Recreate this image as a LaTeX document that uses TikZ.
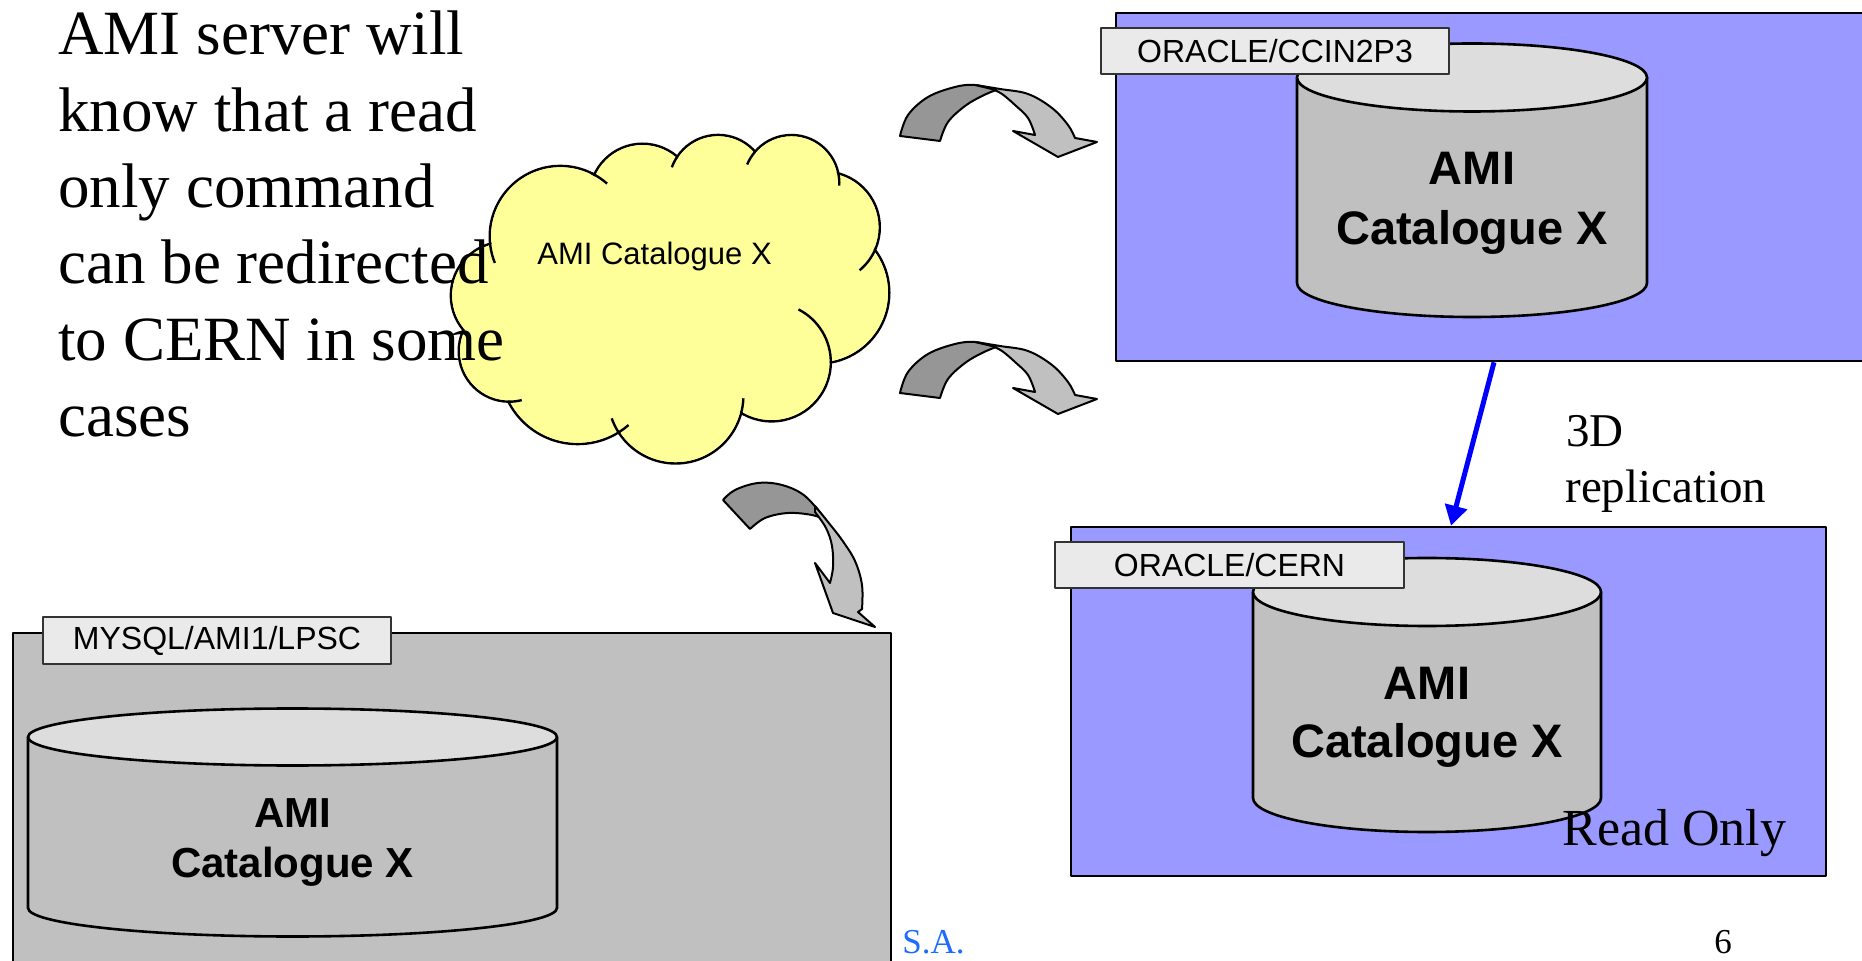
\documentclass[tikz,border=0pt]{standalone}
\usepackage{fontspec}
\setmainfont{Liberation Serif}
\setsansfont{Liberation Sans}
\usetikzlibrary{arrows.meta}
\definecolor{boxblue}{HTML}{9999FF}
\definecolor{cloudfill}{HTML}{FFFF99}
\definecolor{labelfill}{HTML}{EAEAEA}
\definecolor{labelline}{HTML}{333333}
\definecolor{cylside}{HTML}{C0C0C0}
\definecolor{cyltopc}{HTML}{DDDDDD}
\definecolor{greybox}{HTML}{C0C0C0}
\definecolor{arrdarkc}{HTML}{969696}
\definecolor{arrlightc}{HTML}{C0C0C0}
\definecolor{authorblue}{HTML}{1F6BFF}
\begin{document}
\begin{tikzpicture}[x=0.5pt,y=0.5pt,yscale=-1,line join=round,
  bluebox/.style={draw=black, line width=1.3pt, fill=boxblue, inner sep=0pt},
  greyrect/.style={draw=black, line width=1.3pt, fill=greybox, inner sep=0pt},
  lbl/.style={draw=labelline, line width=1pt, fill=labelfill, minimum width=174pt, minimum height=23pt, inner sep=0pt, font=\sffamily\fontsize{16}{19}\selectfont},
  cylbody/.style={draw=black, line width=1.3pt, fill=cylside},
  cyltop/.style={draw=black, line width=1.3pt, fill=cyltopc},
  cyltxt/.style={anchor=base, inner sep=0pt, font=\sffamily\bfseries\fontsize{23.5}{28}\selectfont},
  cyltxtsmall/.style={anchor=base, inner sep=0pt, font=\sffamily\bfseries\fontsize{21}{25}\selectfont},
  bigtxt/.style={anchor=base west, inner sep=0pt, font=\fontsize{31.5}{38}\selectfont},
  midtxt/.style={anchor=base west, inner sep=0pt, font=\fontsize{23.5}{28}\selectfont},
  readtxt/.style={anchor=base west, inner sep=0pt, font=\fontsize{26}{31}\selectfont},
  foottxt/.style={anchor=base west, inner sep=0pt, font=\fontsize{17.5}{21}\selectfont},
  cloudtxt/.style={anchor=base west, inner sep=0pt, font=\sffamily\fontsize{15.5}{18}\selectfont},
  cloudline/.style={draw=black, line width=1.2pt},
  arrdark/.style={draw=black, line width=1pt, fill=arrdarkc},
  arrlight/.style={draw=black, line width=1pt, fill=arrlightc},
  bluearr/.style={draw=blue, line width=2.5pt, -{Triangle[length=10pt,width=11pt]}}
]
\clip (0,0) rectangle (1862,961);

% ---------- top box: ORACLE/CCIN2P3 ----------
\node[bluebox, minimum width=380pt, minimum height=174pt] (ccbox) at (1496,187) {};
\filldraw[cylbody] (1297,77.5) -- (1297,283) arc[start angle=180, end angle=0, x radius=175, y radius=34] -- (1647,77.5) -- cycle;
\filldraw[cyltop] (1472,77.5) ellipse[x radius=175, y radius=34];
\node[lbl] (ccname) at (1275,51) {ORACLE/CCIN2P3};
\node[cyltxt] (cca) at (1472,185) {AMI};
\node[cyltxt] (ccb) at (1472,245) {Catalogue X};

% ---------- bottom right box: ORACLE/CERN ----------
\node[bluebox, minimum width=377.5pt, minimum height=174.5pt] (cernbox) at (1448.5,701.5) {};
\filldraw[cylbody] (1253,592) -- (1253,798) arc[start angle=180, end angle=0, x radius=174, y radius=34] -- (1601,592) -- cycle;
\filldraw[cyltop] (1427,592) ellipse[x radius=174, y radius=34];
\node[lbl, minimum width=174.5pt] (cernname) at (1229.5,565) {ORACLE/CERN};
\node[cyltxt] (cea) at (1427,699) {AMI};
\node[cyltxt] (ceb) at (1427,757) {Catalogue X};
\node[readtxt] (ro) at (1562,845) {Read Only};

% ---------- bottom left box: MYSQL/AMI1/LPSC ----------
\node[greyrect, minimum width=439pt, minimum height=170pt] (lpscbox) at (452,803) {};
\filldraw[cylbody] (28,737) -- (28,908) arc[start angle=180, end angle=0, x radius=264.5, y radius=28.5] -- (557,737) -- cycle;
\filldraw[cyltop] (292.5,737) ellipse[x radius=264.5, y radius=28.5];
\node[lbl, minimum height=23.5pt] (lpscname) at (217,640.5) {MYSQL/AMI1/LPSC};
\node[cyltxtsmall] (lpa) at (292.5,827) {AMI};
\node[cyltxtsmall] (lpb) at (292.5,877) {Catalogue X};

% ---------- cloud ----------
\fill[cloudfill] (560.3,236.5) -- (642.5,196.8) -- (718.1,184.1) -- (791.4,182.9) -- (824,227.3) -- (818.4,292.7) -- (771.6,362.2) -- (675.6,395.7) -- (577.6,366.4) -- (509.2,351.2) -- (504.5,295.5) -- cycle;
\foreach \cx/\cy/\r in {560.3/236.5/70.6, 642.5/196.8/53.1, 718.1/184.1/49.2, 791.4/182.9/47.9, 824/227.3/55.8, 818.4/292.7/70.9, 771.6/362.2/59.2, 675.6/395.7/67.8, 577.6/366.4/77.7, 509.2/351.2/50.5, 504.5/295.5/53.7}
  {\filldraw[cloudline, fill=cloudfill] (\cx,\cy) circle[radius=\r];}
\foreach \cx/\cy/\r in {560.3/236.5/70.6, 642.5/196.8/53.1, 718.1/184.1/49.2, 791.4/182.9/47.9, 824/227.3/55.8, 818.4/292.7/70.9, 771.6/362.2/59.2, 675.6/395.7/67.8, 577.6/366.4/77.7, 509.2/351.2/50.5, 504.5/295.5/53.7}
  {\fill[cloudfill] (\cx,\cy) circle[radius=\r-1.5];}
\fill[cloudfill] (560.3,236.5) -- (642.5,196.8) -- (718.1,184.1) -- (791.4,182.9) -- (824,227.3) -- (818.4,292.7) -- (771.6,362.2) -- (675.6,395.7) -- (577.6,366.4) -- (509.2,351.2) -- (504.5,295.5) -- cycle;
\foreach \cx/\cy/\r/\s/\e in {560.3/236.5/70.6/-63.6/-48.5, 560.3/236.5/70.6/173/158, 718.1/184.1/49.2/-145.5/-160, 791.4/182.9/47.9/-139.4/-157.4, 791.4/182.9/47.9/-11.6/3.3, 824/227.3/55.8/24/50.4, 771.6/362.2/59.2/-63/1, 675.6/395.7/67.8/15/2.2, 675.6/395.7/67.8/146/160.5, 577.6/366.4/77.7/57.6/49, 509.2/351.2/50.5/91/75.6}
  {\draw[cloudline] (\cx,\cy) ++(\s:\r) arc[start angle=\s, end angle=\e, radius=\r];}
\node[cloudtxt] (cloudlbl) at (537,265) {AMI Catalogue X};

% ---------- left text ----------
\node[bigtxt] (t1) at (58,55) {AMI server will};
\node[bigtxt] (t2) at (58,131.3) {know that a read};
\node[bigtxt] (t3) at (58,207.6) {only command};
\node[bigtxt] (t4) at (58,283.9) {can be redirected};
\node[bigtxt] (t5) at (58,360.2) {to CERN in some};
\node[bigtxt] (t6) at (58,436.5) {cases};

% ---------- curved block arrows (to the CCIN2P3 box, twice) ----------
\foreach \dy in {0,257} {
\begin{scope}[shift={(0,\dy)}]
\filldraw[arrdark] plot[smooth, tension=0.6] coordinates {(900,136) (908,115) (928,97) (955,87) (975,85) (996,90)}
  -- plot[smooth, tension=0.6] coordinates {(996,90) (982,96) (965,106) (948,122) (940,141)} -- cycle;
\filldraw[arrlight] plot[smooth, tension=0.6] coordinates {(975,85) (1000,89) (1028,94) (1052,108) (1068,125) (1075,138)}
  -- (1097,142) -- (1058,157) -- (1013,131) -- (1035,135)
  -- plot[smooth, tension=0.6] coordinates {(1035,135) (1028,118) (1015,105) (1002,94) (992,89)} -- cycle;
\end{scope}
}

% ---------- curved block arrow down to the LPSC box ----------
\filldraw[arrdark] plot[smooth, tension=0.6] coordinates {(723,500) (735,490) (758,483) (782,485) (805,496) (826,520)}
  -- plot[smooth, tension=0.6] coordinates {(826,520) (812,515) (788,513) (765,518) (750,529)} -- cycle;
\filldraw[arrlight] plot[smooth, tension=0.6] coordinates {(815,506) (828,522) (842,540) (855,561) (862,585) (862,609)}
  -- (858,612) -- (875,627) -- (833,613) -- (815,563) -- (830,583)
  -- plot[smooth, tension=0.6] coordinates {(830,583) (833,567) (832,546) (826,528) (815,512)} -- cycle;

% ---------- replication arrow ----------
\draw[bluearr] ([xshift=-1pt]ccbox.south) -- ([xshift=1.25pt]cernbox.north);
\node[midtxt] (r1) at (1566,447) {3D};
\node[midtxt] (r2) at (1565,503) {replication};

% ---------- footer ----------
\node[foottxt, text=authorblue] (author) at (902,953) {S.A.};
\node[foottxt] (pagenum) at (1714,953) {6};
\end{tikzpicture}
\end{document}
